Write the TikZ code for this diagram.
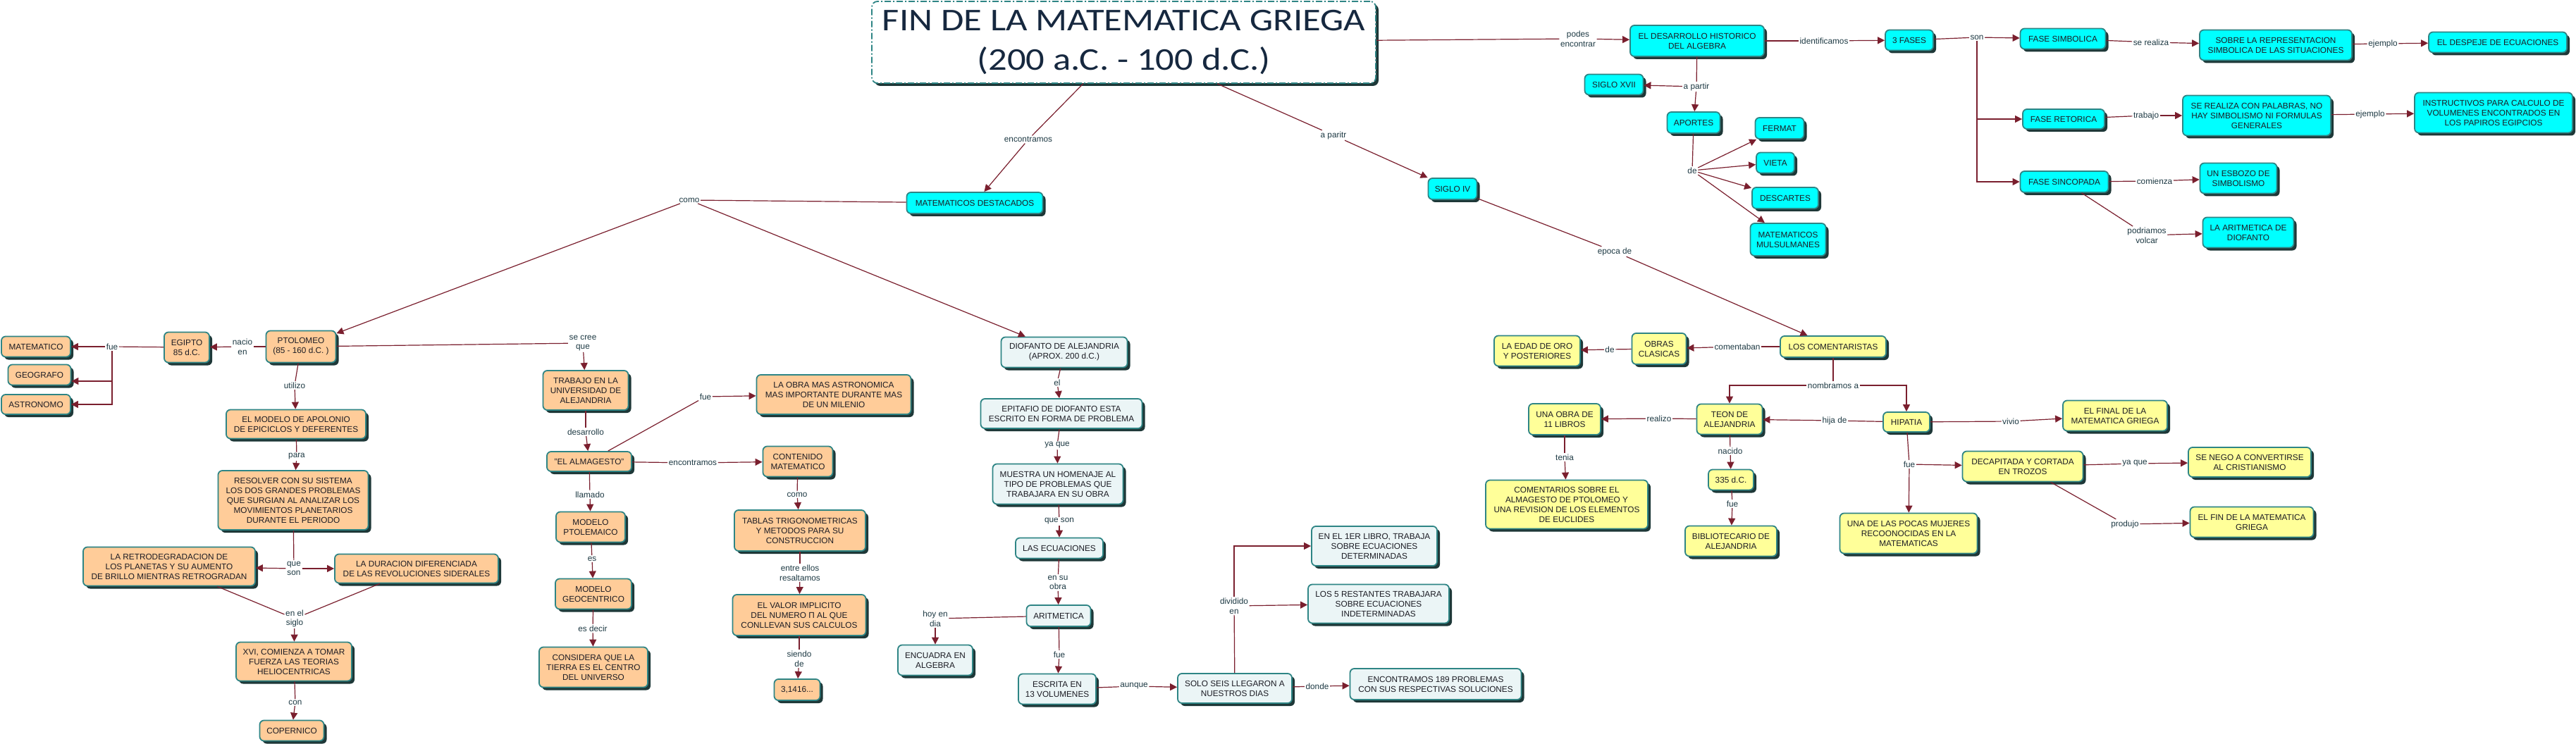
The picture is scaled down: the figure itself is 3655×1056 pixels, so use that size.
\documentclass[tikz,border=0pt]{standalone}
\usepackage{fontspec}
\usepackage{graphicx}
\setmainfont{Liberation Sans}
\newfontfamily\titlefont{Carlito}
\usetikzlibrary{arrows.meta,shadows,calc}
\definecolor{cyanf}{HTML}{00FFFF}
\definecolor{peachf}{HTML}{FFCC99}
\definecolor{paleb}{HTML}{EBF5F6}
\definecolor{yellf}{HTML}{FFFF99}
\definecolor{bordc}{HTML}{2E8585}
\definecolor{shadc}{HTML}{1E3838}
\definecolor{linkc}{HTML}{7A1F2E}
\definecolor{labc}{HTML}{1E3A44}
\definecolor{txtc}{HTML}{1C1C24}
\definecolor{titc}{HTML}{16283F}
\tikzset{
 concept/.style={draw=bordc, line width=1.8pt, rounded corners=6pt, align=center, inner sep=1pt, text=txtc,
   font=\fontsize{11.8}{14}\selectfont,
   drop shadow={shadow xshift=4pt, shadow yshift=-4pt, fill=shadc, opacity=1}},
 cy/.style={concept, fill=cyanf},
 pe/.style={concept, fill=peachf},
 pb/.style={concept, fill=paleb},
 ye/.style={concept, fill=yellf},
 sz/.style 2 args={minimum width=#1pt, minimum height=#2pt},
 lab/.style={align=center, inner sep=1.5pt, text=labc, font=\fontsize{11.8}{13.7}\selectfont},
 ln/.style={draw=linkc, line width=1.2pt},
 ar/.style={ln, -{Triangle[length=10pt,width=10pt]}},
}
\begin{document}
\begin{tikzpicture}[x=1pt,y=-1pt]
\fill[white] (0,0) rectangle (3655,1056);
\useasboundingbox (0,0) rectangle (3655,1056);

% title
\node[draw=bordc, line width=1.8pt, dash pattern=on 9pt off 3pt on 2pt off 3pt, rounded corners=8pt, fill=white,
  minimum width=715pt, minimum height=116pt, inner sep=0pt,
  drop shadow={shadow xshift=4pt, shadow yshift=-4pt, fill=shadc, opacity=1},
  align=center, text=titc, font={\titlefont\fontsize{45}{56}\selectfont}] (title) at (1594.5,60)
  {\scalebox{1.17}[1]{FIN DE LA MATEMATICA GRIEGA}\\\scalebox{1.17}[1]{(200 a.C. - 100 d.C.)}};

% cyan nodes
\node[cy, sz={190}{44}] (des) at (2408,58) {EL DESARROLLO HISTORICO\\DEL ALGEBRA};
\node[cy, sz={68}{29}] (fases) at (2709,57) {3 FASES};
\node[cy, sz={83}{29}] (xvii) at (2290,120) {SIGLO XVII};
\node[cy, sz={75}{30}] (aportes) at (2403,174) {APORTES};
\node[cy, sz={69}{30}] (fermat) at (2525,182) {FERMAT};
\node[cy, sz={54}{29}] (vieta) at (2519,231) {VIETA};
\node[cy, sz={94}{30}] (descartes) at (2533,281) {DESCARTES};
\node[cy, sz={107}{46}] (musul) at (2537,340) {MATEMATICOS\\MULSULMANES};
\node[cy, sz={121}{29}] (simb) at (2927,55) {FASE SIMBOLICA};
\node[cy, sz={216}{43}] (sobre) at (3229,64) {SOBRE LA REPRESENTACION\\SIMBOLICA DE LAS SITUACIONES};
\node[cy, sz={196}{29}] (despeje) at (3544,60) {EL DESPEJE DE ECUACIONES};
\node[cy, sz={116}{28}] (retor) at (2928,169) {FASE RETORICA};
\node[cy, sz={210}{57}] (palabras) at (3202,164) {SE REALIZA CON PALABRAS, NO\\HAY SIMBOLISMO NI FORMULAS\\GENERALES};
\node[cy, sz={224}{57}] (instr) at (3538,160) {INSTRUCTIVOS PARA CALCULO DE\\VOLUMENES ENCONTRADOS EN\\LOS PAPIROS EGIPCIOS};
\node[cy, sz={125}{30}] (sinco) at (2929,258) {FASE SINCOPADA};
\node[cy, sz={109}{43}] (esbozo) at (3176,253) {UN ESBOZO DE\\SIMBOLISMO};
\node[cy, sz={129}{43}] (aritd) at (3190,330) {LA ARITMETICA DE\\DIOFANTO};
\node[cy, sz={193}{30}] (matdest) at (1383,288) {MATEMATICOS DESTACADOS};
\node[cy, sz={69}{30}] (sigloiv) at (2061,268) {SIGLO IV};

% pale blue nodes
\node[pb, sz={179}{43}] (dio) at (1510,500) {DIOFANTO DE ALEJANDRIA\\(APROX. 200 d.C.)};
\node[pb, sz={229}{42}] (epi) at (1506,587) {EPITAFIO DE DIOFANTO ESTA\\ESCRITO EN FORMA DE PROBLEMA};
\node[pb, sz={185}{57}] (muestra) at (1501,687) {MUESTRA UN HOMENAJE AL\\TIPO DE PROBLEMAS QUE\\TRABAJARA EN SU OBRA};
\node[pb, sz={124}{29}] (ecu) at (1503,778) {LAS ECUACIONES};
\node[pb, sz={91}{30}] (arit) at (1502,874) {ARITMETICA};
\node[pb, sz={106}{43}] (encu) at (1327,937) {ENCUADRA EN\\ALGEBRA};
\node[pb, sz={110}{43}] (escrita) at (1500,978) {ESCRITA EN\\13 VOLUMENES};
\node[pb, sz={162}{42}] (seis) at (1752,977) {SOLO SEIS LLEGARON A\\NUESTROS DIAS};
\node[pb, sz={178}{56}] (libro1) at (1950,775) {EN EL 1ER LIBRO, TRABAJA\\SOBRE ECUACIONES\\DETERMINADAS};
\node[pb, sz={200}{55}] (rest5) at (1956,857) {LOS 5 RESTANTES TRABAJARA\\SOBRE ECUACIONES\\INDETERMINADAS};
\node[pb, sz={243}{44}] (enc189) at (2037,971) {ENCONTRAMOS 189 PROBLEMAS\\CON SUS RESPECTIVAS SOLUCIONES};

% peach nodes
\node[pe, sz={98}{29}] (mate) at (51,492) {MATEMATICO};
\node[pe, sz={89}{29}] (geo) at (56,532) {GEOGRAFO};
\node[pe, sz={98}{28}] (astro) at (51,574) {ASTRONOMO};
\node[pe, sz={64}{43}] (egipto) at (265,493) {EGIPTO\\85 d.C.};
\node[pe, sz={99}{45}] (ptol) at (427,492) {PTOLOMEO\\(85 - 160 d.C. )};
\node[pe, sz={198}{41}] (modelo) at (420,602) {EL MODELO DE APOLONIO\\DE EPICICLOS Y DEFERENTES};
\node[pe, sz={213}{84}] (resolver) at (416,710) {RESOLVER CON SU SISTEMA\\LOS DOS GRANDES PROBLEMAS\\QUE SURGIAN AL ANALIZAR LOS\\MOVIMIENTOS PLANETARIOS\\DURANTE EL PERIODO};
\node[pe, sz={244}{55}] (retro) at (240,804) {LA RETRODEGRADACION DE\\LOS PLANETAS Y SU AUMENTO\\DE BRILLO MIENTRAS RETROGRADAN};
\node[pe, sz={232}{41}] (durac) at (591,807) {LA DURACION DIFERENCIADA\\DE LAS REVOLUCIONES SIDERALES};
\node[pe, sz={164}{55}] (xvi) at (417,939) {XVI, COMIENZA A TOMAR\\FUERZA LAS TEORIAS\\HELIOCENTRICAS};
\node[pe, sz={91}{29}] (coper) at (414,1037) {COPERNICO};
\node[pe, sz={121}{56}] (trabajo) at (831,554) {TRABAJO EN LA\\UNIVERSIDAD DE\\ALEJANDRIA};
\node[pe, sz={219}{56}] (obra) at (1183,560) {LA OBRA MAS ASTRONOMICA\\MAS IMPORTANTE DURANTE MAS\\DE UN MILENIO};
\node[pe, sz={120}{28}] (almag) at (836,655) {"EL ALMAGESTO"};
\node[pe, sz={99}{43}] (contenido) at (1132,655) {CONTENIDO\\MATEMATICO};
\node[pe, sz={98}{43}] (modpto) at (838,748) {MODELO\\PTOLEMAICO};
\node[pe, sz={108}{43}] (modgeo) at (842,843) {MODELO\\GEOCENTRICO};
\node[pe, sz={154}{57}] (considera) at (842,947) {CONSIDERA QUE LA\\TIERRA ES EL CENTRO\\DEL UNIVERSO};
\node[pe, sz={186}{58}] (tablas) at (1135,753) {TABLAS TRIGONOMETRICAS\\Y METODOS PARA SU\\CONSTRUCCION};
\node[pe, sz={189}{58}] (valor) at (1134,873) {EL VALOR IMPLICITO\\DEL NUMERO Π AL QUE\\CONLLEVAN SUS CALCULOS};
\node[pe, sz={65}{30}] (pi) at (1131,979) {3,1416...};

% yellow nodes
\node[ye, sz={150}{30}] (coment) at (2601,492) {LOS COMENTARISTAS};
\node[ye, sz={77}{44}] (obras) at (2354,495) {OBRAS\\CLASICAS};
\node[ye, sz={122}{43}] (edad) at (2181,498) {LA EDAD DE ORO\\Y POSTERIORES};
\node[ye, sz={93}{43}] (teon) at (2454,595) {TEON DE\\ALEJANDRIA};
\node[ye, sz={66}{28}] (hipatia) at (2705,599) {HIPATIA};
\node[ye, sz={102}{44}] (obra11) at (2220,595) {UNA OBRA DE\\11 LIBROS};
\node[ye, sz={230}{69}] (comentarios) at (2223,716) {COMENTARIOS SOBRE EL\\ALMAGESTO DE PTOLOMEO Y\\UNA REVISION DE LOS ELEMENTOS\\DE EUCLIDES};
\node[ye, sz={64}{29}] (d335) at (2456,681) {335 d.C.};
\node[ye, sz={130}{43}] (biblio) at (2456,768) {BIBLIOTECARIO DE\\ALEJANDRIA};
\node[ye, sz={195}{57}] (pocas) at (2708,757) {UNA DE LAS POCAS MUJERES\\RECOONOCIDAS EN LA\\MATEMATICAS};
\node[ye, sz={148}{43}] (final) at (3001,590) {EL FINAL DE LA\\MATEMATICA GRIEGA};
\node[ye, sz={171}{43}] (decap) at (2870,662) {DECAPITADA Y CORTADA\\EN TROZOS};
\node[ye, sz={174}{42}] (nego) at (3192,656) {SE NEGO A CONVERTIRSE\\AL CRISTIANISMO};
\node[ye, sz={175}{43}] (fin) at (3195,741) {EL FIN DE LA MATEMATICA\\GRIEGA};

% labels
\node[lab] (lpodes) at (2239,55) {podes\\encontrar};
\node[lab] (lident) at (2588,58) {identificamos};
\node[lab] (lson) at (2805,53) {son};
\node[lab] (lapartir) at (2407,123) {a partir};
\node[lab] (lde1) at (2401,242) {de};
\node[lab] (lserealiza) at (3052,60) {se realiza};
\node[lab] (lej1) at (3381,62) {ejemplo};
\node[lab] (ltrabajo) at (3045,164) {trabajo};
\node[lab] (lej2) at (3363,162) {ejemplo};
\node[lab] (lcomienza) at (3057,257) {comienza};
\node[lab] (lpodriamos) at (3046,334) {podriamos\\volcar};
\node[lab] (lencontramos) at (1459,198) {encontramos};
\node[lab] (lparitr) at (1892,192) {a paritr};
\node[lab] (lepoca) at (2291,357) {epoca de};
\node[lab] (lcomo) at (978,284) {como};
\node[lab] (lfue1) at (159,492) {fue};
\node[lab] (lnacio) at (344,492) {nacio\\en};
\node[lab] (lsecree) at (827,487) {se cree\\que};
\node[lab] (lutilizo) at (418,547) {utilizo};
\node[lab] (lpara) at (421,648) {para};
\node[lab] (lqueson) at (417,807) {que\\son};
\node[lab] (lsiglo) at (418,878) {en el\\siglo};
\node[lab] (lcon) at (419,997) {con};
\node[lab] (ldesarrollo) at (831,613) {desarrollo};
\node[lab] (lfue2) at (1001,563) {fue};
\node[lab] (lencontramos2) at (983,657) {encontramos};
\node[lab] (lllamado) at (837,702) {llamado};
\node[lab] (les) at (840,793) {es};
\node[lab] (lesdecir) at (841,892) {es decir};
\node[lab] (lcomo2) at (1131,702) {como};
\node[lab] (lentre) at (1135,813) {entre ellos\\resaltamos};
\node[lab] (lsiendo) at (1134,935) {siendo\\de};
\node[lab] (lel) at (1500,543) {el};
\node[lab] (lyaque) at (1500,632) {ya que};
\node[lab] (lqueson2) at (1503,740) {que son};
\node[lab] (lensu) at (1501,827) {en su\\obra};
\node[lab] (lhoy) at (1327,878) {hoy en\\dia};
\node[lab] (lfue3) at (1503,929) {fue};
\node[lab] (launque) at (1609,974) {aunque};
\node[lab] (ldividido) at (1751,860) {dividido\\en};
\node[lab] (ldonde) at (1869,974) {donde};
\node[lab] (lcomentaban) at (2465,492) {comentaban};
\node[lab] (lde2) at (2284,496) {de};
\node[lab] (lnombramos) at (2601,547) {nombramos a};
\node[lab] (lhija) at (2603,597) {hija de};
\node[lab] (lrealizo) at (2354,594) {realizo};
\node[lab] (ltenia) at (2220,649) {tenia};
\node[lab] (lnacido) at (2455,640) {nacido};
\node[lab] (lfue4) at (2458,715) {fue};
\node[lab] (lvivio) at (2853,598) {vivio};
\node[lab] (lfue5) at (2709,659) {fue};
\node[lab] (lyaque2) at (3029,658) {ya que};
\node[lab] (lproduio) at (3015,744) {produjo};

% connectors
\draw[ln] (title) -- (lpodes); \draw[ar] (lpodes) -- (des);
\draw[ln] (des) -- (lident); \draw[ar] (lident) -- (fases);
\draw[ln] (fases) -- (lson); \draw[ar] (lson) -- (simb);
\draw[ar] (lson.south) |- (retor.west);
\draw[ar] (lson.south) |- (sinco.west);
\draw[ln] (des) -- (lapartir); \draw[ar] (lapartir) -- (xvii); \draw[ar] (lapartir) -- (aportes);
\draw[ln] (aportes) -- (lde1);
\draw[ar] (lde1) -- (fermat); \draw[ar] (lde1) -- (vieta); \draw[ar] (lde1) -- (descartes); \draw[ar] (lde1) -- (musul);
\draw[ln] (simb) -- (lserealiza); \draw[ar] (lserealiza) -- (sobre);
\draw[ln] (sobre) -- (lej1); \draw[ar] (lej1) -- (despeje);
\draw[ln] (retor) -- (ltrabajo); \draw[ar] (ltrabajo) -- (palabras);
\draw[ln] (palabras) -- (lej2); \draw[ar] (lej2) -- (instr);
\draw[ln] (sinco) -- (lcomienza); \draw[ar] (lcomienza) -- (esbozo);
\draw[ln] (sinco) -- (lpodriamos); \draw[ar] (lpodriamos) -- (aritd);
\draw[ln] (title) -- (lencontramos); \draw[ar] (lencontramos) -- (matdest);
\draw[ln] (title) -- (lparitr); \draw[ar] (lparitr) -- (sigloiv);
\draw[ln] (sigloiv) -- (lepoca); \draw[ar] (lepoca) -- (coment);
\draw[ln] (matdest) -- (lcomo); \draw[ar] (lcomo) -- (ptol); \draw[ar] (lcomo) -- (dio);
\draw[ln] (egipto) -- (lfue1); \draw[ar] (lfue1) -- (mate);
\draw[ar] (lfue1.south) |- ([yshift=-9pt]geo.east);
\draw[ar] (lfue1.south) |- (astro.east);
\draw[ln] (ptol) -- (lnacio); \draw[ar] (lnacio) -- (egipto);
\draw[ln] (ptol) -- (lsecree); \draw[ar] (lsecree) -- (trabajo);
\draw[ln] (ptol) -- (lutilizo); \draw[ar] (lutilizo) -- (modelo);
\draw[ln] (modelo) -- (lpara); \draw[ar] (lpara) -- (resolver);
\draw[ln] (resolver) -- (lqueson); \draw[ar] (lqueson) -- (retro); \draw[ar] (lqueson) -- (durac);
\draw[ln] (retro) -- (lsiglo); \draw[ln] (durac) -- (lsiglo); \draw[ar] (lsiglo) -- (xvi);
\draw[ln] (xvi) -- (lcon); \draw[ar] (lcon) -- (coper);
\draw[ln] (trabajo) -- (ldesarrollo); \draw[ar] (ldesarrollo) -- (almag);
\draw[ln] (almag) -- (lfue2); \draw[ar] (lfue2) -- (obra);
\draw[ln] (almag) -- (lencontramos2); \draw[ar] (lencontramos2) -- (contenido);
\draw[ln] (almag) -- (lllamado); \draw[ar] (lllamado) -- (modpto);
\draw[ln] (modpto) -- (les); \draw[ar] (les) -- (modgeo);
\draw[ln] (modgeo) -- (lesdecir); \draw[ar] (lesdecir) -- (considera);
\draw[ln] (contenido) -- (lcomo2); \draw[ar] (lcomo2) -- (tablas);
\draw[ln] (tablas) -- (lentre); \draw[ar] (lentre) -- (valor);
\draw[ln] (valor) -- (lsiendo); \draw[ar] (lsiendo) -- (pi);
\draw[ln] (dio) -- (lel); \draw[ar] (lel) -- (epi);
\draw[ln] (epi) -- (lyaque); \draw[ar] (lyaque) -- (muestra);
\draw[ln] (muestra) -- (lqueson2); \draw[ar] (lqueson2) -- (ecu);
\draw[ln] (ecu) -- (lensu); \draw[ar] (lensu) -- (arit);
\draw[ln] (arit) -- (lhoy); \draw[ar] (lhoy) -- (encu);
\draw[ln] (arit) -- (lfue3); \draw[ar] (lfue3) -- (escrita);
\draw[ln] (escrita) -- (launque); \draw[ar] (launque) -- (seis);
\draw[ln] (seis) -- (ldividido); \draw[ar] (ldividido.north) |- (libro1.west); \draw[ar] (ldividido) -- (rest5);
\draw[ln] (seis) -- (ldonde); \draw[ar] (ldonde) -- (enc189);
\draw[ln] (coment) -- (lcomentaban); \draw[ar] (lcomentaban) -- (obras);
\draw[ln] (obras) -- (lde2); \draw[ar] (lde2) -- (edad);
\draw[ln] (coment) -- (lnombramos);
\draw[ar] (lnombramos.west) -| (teon.north);
\draw[ar] (lnombramos.east) -| (hipatia.north);
\draw[ln] (hipatia) -- (lhija); \draw[ar] (lhija) -- (teon);
\draw[ln] (teon) -- (lrealizo); \draw[ar] (lrealizo) -- (obra11);
\draw[ln] (obra11) -- (ltenia); \draw[ar] (ltenia) -- (comentarios);
\draw[ln] (teon) -- (lnacido); \draw[ar] (lnacido) -- (d335);
\draw[ln] (d335) -- (lfue4); \draw[ar] (lfue4) -- (biblio);
\draw[ln] (hipatia) -- (lvivio); \draw[ar] (lvivio) -- (final);
\draw[ln] (hipatia) -- (lfue5); \draw[ar] (lfue5) -- (decap); \draw[ar] (lfue5) -- (pocas);
\draw[ln] (decap) -- (lyaque2); \draw[ar] (lyaque2) -- (nego);
\draw[ln] (decap) -- (lproduio); \draw[ar] (lproduio) -- (fin);
\end{tikzpicture}
\end{document}
